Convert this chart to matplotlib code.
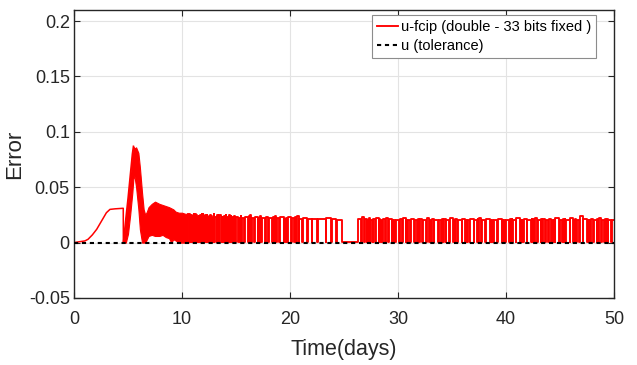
import matplotlib
matplotlib.use("Agg")
import matplotlib.pyplot as plt

plt.rcParams['font.family'] = ['Liberation Sans', 'DejaVu Sans']

# start-up ramp (days, error)
ramp_days = [0, 0.5, 1.0, 1.3, 1.7, 2.1, 2.7, 3.0, 3.33, 3.8, 4.56, 4.57]
ramp_err = [0, 0.0008, 0.0015, 0.003, 0.007, 0.012, 0.022, 0.027, 0.030, 0.0305, 0.031, 0.0]

# overshoot and settling band: upper / lower envelope
band_days = [4.57, 4.8, 5.0, 5.2, 5.4, 5.5, 5.6, 5.75, 5.96, 6.1, 6.3, 6.45, 6.6, 6.75,
             6.9, 7.2, 7.5, 7.9, 8.2, 8.5, 8.8, 9.0, 9.2, 9.4, 9.7, 10.0, 10.3, 10.6]
band_upper = [0.0, 0.022, 0.040, 0.060, 0.080, 0.087, 0.085, 0.086, 0.081, 0.068, 0.045, 0.030, 0.025, 0.028,
              0.032, 0.035, 0.037, 0.035, 0.034, 0.033, 0.032, 0.031, 0.030, 0.028, 0.027, 0.027, 0.026, 0.026]
band_lower = [0.0, 0.0, 0.008, 0.025, 0.045, 0.058, 0.060, 0.050, 0.030, 0.012, 0.0, 0.0, 0.0, 0.003,
              0.006, 0.007, 0.006, 0.006, 0.007, 0.005, 0.004, 0.0, 0.003, 0.002, 0.0, 0.0, 0.0, 0.0]

# switching part: days where the error drops to zero, and the level held before each drop
dip_days = [10.7, 10.8, 10.9, 11.05, 11.15, 11.25, 11.4, 11.5, 11.6, 11.75, 11.85, 11.95, 12.1, 12.2,
            12.3, 12.45, 12.55, 12.65, 12.8, 12.9, 13.0, 13.2, 13.3, 13.4, 13.6, 13.7, 13.8, 14.0,
            14.1, 14.25, 14.45, 14.55, 14.7, 14.9,
            15.2, 15.35, 15.5, 15.75, 16.1, 16.25, 16.4, 16.7, 17.0, 17.15, 17.3, 17.7, 18.0, 18.35,
            18.5, 18.7, 19.0, 19.4, 19.55, 19.7,
            20.1, 20.4, 20.55, 20.8, 21.1, 21.6, 22.0, 22.5, 23.3, 23.8, 24.3, 24.8,
            26.6, 26.85, 27.1, 27.25, 27.4, 27.65, 27.9, 28.2, 28.35, 28.5, 28.8, 29.1, 29.4, 29.55, 29.7,
            30.1, 30.4, 30.7, 30.85, 31.1, 31.5, 31.8, 31.95, 32.2, 32.6, 32.9, 33.05, 33.3, 33.7,
            34.0, 34.15, 34.4, 34.7, 35.1, 35.25, 35.5, 35.9, 36.2, 36.35, 36.6, 37.0, 37.3, 37.45,
            37.7, 38.1, 38.5, 38.65, 38.8, 39.2, 39.6, 39.75, 39.9,
            40.3, 40.45, 40.6, 40.9, 41.3, 41.45, 41.6, 41.9, 42.3, 42.45, 42.6, 42.9, 43.2, 43.35,
            43.6, 43.9, 44.2, 44.35, 44.5, 44.9, 45.2, 45.35, 45.5, 45.9, 46.2, 46.35, 46.5, 46.8,
            47.1, 47.5, 47.65, 47.8, 48.1, 48.4, 48.55, 48.8, 49.1, 49.25, 49.4, 49.7]
dip_levels = [0.026, 0.024, 0.025, 0.024, 0.026, 0.026, 0.025, 0.023, 0.024, 0.025, 0.026, 0.026, 0.024, 0.025,
              0.025, 0.023, 0.024, 0.025, 0.024, 0.022, 0.026, 0.023, 0.025, 0.024, 0.025, 0.023, 0.023, 0.024,
              0.025, 0.023, 0.025, 0.024, 0.023, 0.024,
              0.023, 0.022, 0.024, 0.022, 0.023, 0.024, 0.025, 0.022, 0.023, 0.022, 0.024, 0.022, 0.023, 0.022,
              0.023, 0.024, 0.022, 0.023, 0.021, 0.022,
              0.023, 0.022, 0.023, 0.024, 0.021, 0.022, 0.021, 0.021, 0.021, 0.022, 0.021, 0.020,
              0.021, 0.023, 0.021, 0.020, 0.022, 0.020, 0.021, 0.022, 0.021, 0.020, 0.021, 0.022, 0.021, 0.020, 0.020,
              0.020, 0.021, 0.022, 0.020, 0.020, 0.021, 0.020, 0.021, 0.021, 0.020, 0.022, 0.020, 0.021, 0.020,
              0.020, 0.021, 0.021, 0.020, 0.022, 0.020, 0.021, 0.020, 0.021, 0.020, 0.020, 0.021, 0.020, 0.021,
              0.022, 0.020, 0.021, 0.020, 0.020, 0.020, 0.021, 0.020, 0.020,
              0.020, 0.021, 0.021, 0.020, 0.022, 0.020, 0.020, 0.021, 0.020, 0.021, 0.021, 0.022, 0.020, 0.021,
              0.021, 0.020, 0.021, 0.020, 0.020, 0.022, 0.020, 0.021, 0.021, 0.020, 0.022, 0.020, 0.021, 0.020,
              0.024, 0.021, 0.020, 0.020, 0.021, 0.020, 0.021, 0.022, 0.020, 0.021, 0.021, 0.020]
end_level = 0.020
long_lows = {24.8: 1.5}   # dip start -> length in days
dip_len = 0.07
assert len(dip_days) == len(dip_levels)

tol_days = [0, 50]
tol_err = [0, 0]

# build the switching trace
sw_t, sw_e = [10.6], [dip_levels[0]]
for i, (d, lev) in enumerate(zip(dip_days, dip_levels)):
    w = long_lows.get(d, dip_len)
    nxt = dip_levels[i + 1] if i + 1 < len(dip_levels) else end_level
    sw_t += [d, d, d + w, d + w]
    sw_e += [lev, 0.0005, 0.0005, nxt]
sw_t.append(50)
sw_e.append(end_level)

fig = plt.figure(figsize=(6.37, 3.65), dpi=100)
ax = fig.add_axes([74 / 637, 67 / 365, 540 / 637, 288 / 365])

red = '#ff0000'
ax.plot(ramp_days, ramp_err, color=red, lw=1.1)
ax.fill_between(band_days, band_lower, band_upper, color=red, lw=0.8, edgecolor=red)
ax.plot(band_days[:6], band_upper[:6], color=red, lw=1.1)
ax.plot(sw_t, sw_e, color=red, lw=1.35, label='u-fcip (double - 33 bits fixed )')
ax.plot(tol_days, tol_err, color='black', lw=1.5, linestyle=(0, (2.0, 1.8)),
        label='u (tolerance)', zorder=5)

ax.set_xlim(0, 50)
ax.set_ylim(-0.05, 0.21)
ax.set_xticks([0, 10, 20, 30, 40, 50])
ax.set_yticks([-0.05, 0, 0.05, 0.1, 0.15, 0.2])
ax.set_yticklabels(['-0.05', '0', '0.05', '0.1', '0.15', '0.2'])
ax.grid(True, color='#e3e3e3', lw=0.8)
ax.set_axisbelow(True)
ax.tick_params(direction='in', length=4, width=0.8, top=True, right=True,
               labelsize=13, colors='#262626')
ax.tick_params(axis='x', pad=9)
ax.tick_params(axis='y', pad=3)
for s in ax.spines.values():
    s.set_color('#262626')
    s.set_linewidth(1.0)

ax.set_xlabel('Time(days)', fontsize=15.5, color='#262626', labelpad=8)
ax.set_ylabel('Error', fontsize=16, color='#262626', labelpad=3)

leg = ax.legend(loc='upper right', bbox_to_anchor=(522 / 540, 1 - 5 / 288), borderaxespad=0,
                fontsize=10.5, fancybox=False, framealpha=1, edgecolor='#8c8c8c',
                handlelength=1.4, handletextpad=0.2, borderpad=0.35, labelspacing=0.35)
leg.get_frame().set_linewidth(0.8)

fig.savefig('out.png', dpi=100)
